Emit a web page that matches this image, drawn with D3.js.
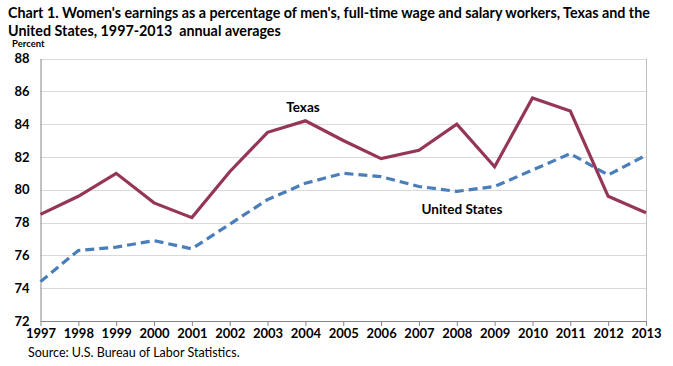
<!DOCTYPE html>
<html>
<head>
<meta charset="utf-8">
<script src="https://cdn.jsdelivr.net/npm/d3@7"></script>
<style>
  body { margin: 0; background: #fff; }
  svg text { font-family: Lato, "Open Sans", sans-serif; }
</style>
</head>
<body>
<div id="chart"></div>
<script>
// data
const years = [1997, 1998, 1999, 2000, 2001, 2002, 2003, 2004, 2005, 2006, 2007, 2008, 2009, 2010, 2011, 2012, 2013];
const texas = [78.5, 79.6, 81.0, 79.2, 78.3, 81.1, 83.5, 84.2, 83.0, 81.9, 82.4, 84.0, 81.4, 85.6, 84.8, 79.6, 78.6];
const unitedStates = [74.4, 76.3, 76.5, 76.9, 76.4, 77.9, 79.4, 80.4, 81.0, 80.8, 80.2, 79.9, 80.2, 81.2, 82.2, 80.9, 82.1];
const yTicks = [72, 74, 76, 78, 80, 82, 84, 86, 88];

const width = 673;
const height = 366;
const margin = { top: 58.5, right: 27, bottom: 45, left: 40.5 };

const svg = d3.select('#chart')
  .append('svg')
  .attr('width', width)
  .attr('height', height);

// title
const title = svg.append('text')
  .attr('x', 8)
  .attr('y', 18)
  .style('font-size', '14.3px')
  .style('font-weight', 'bold')
  .style('white-space', 'pre')
  .attr('fill', '#000');
title.append('tspan').attr('x', 8).attr('y', 18)
  .text("Chart 1. Women's earnings as a percentage of men's, full-time wage and salary workers, Texas and the");
title.append('tspan').attr('x', 8).attr('y', 36)
  .text('United States, 1997-2013  annual averages');

svg.append('text')
  .attr('x', 12)
  .attr('y', 47)
  .style('font-size', '9.5px')
  .style('font-weight', 'bold')
  .text('Percent');

const x = d3.scaleLinear()
  .domain([1997, 2013])
  .range([margin.left, width - margin.right]);

const y = d3.scaleLinear()
  .domain([72, 88])
  .range([height - margin.bottom, margin.top]);

// gridlines
svg.append('g')
  .selectAll('line')
  .data(yTicks.slice(1))
  .enter()
  .append('line')
  .attr('x1', margin.left)
  .attr('x2', width - margin.right)
  .attr('y1', (d) => Math.round(y(d)) + 0.5)
  .attr('y2', (d) => Math.round(y(d)) + 0.5)
  .attr('stroke', '#d9d9d9')
  .attr('stroke-width', 1);

// right border of plot
svg.append('line')
  .attr('x1', width - margin.right + 0.5)
  .attr('x2', width - margin.right + 0.5)
  .attr('y1', margin.top)
  .attr('y2', height - margin.bottom)
  .attr('stroke', '#bfbfbf');

// y axis
const yAxis = svg.append('g')
  .attr('transform', `translate(${margin.left},0)`)
  .call(d3.axisLeft(y).tickValues(yTicks).tickSize(0).tickPadding(11).tickFormat(d3.format('d')));
yAxis.select('.domain').attr('stroke', '#868686');
yAxis.selectAll('text')
  .style('font-size', '13px')
  .style('font-weight', 'bold')
  .attr('fill', '#000');

// x axis
const xAxis = svg.append('g')
  .attr('transform', `translate(0,${height - margin.bottom})`)
  .call(d3.axisBottom(x).tickValues(years).tickSize(5).tickSizeOuter(0).tickPadding(3).tickFormat(d3.format('d')));
xAxis.select('.domain').attr('stroke', '#868686');
xAxis.selectAll('.tick line').attr('stroke', '#868686');
xAxis.selectAll('text')
  .style('font-size', '13px')
  .style('font-weight', 'bold')
  .attr('fill', '#000');

// lines
const line = d3.line()
  .x((d, i) => x(years[i]))
  .y((d) => y(d));

svg.append('path')
  .datum(unitedStates)
  .attr('fill', 'none')
  .attr('stroke', '#4a7ebb')
  .attr('stroke-width', 3.2)
  .attr('stroke-dasharray', '9,5')
  .attr('d', line);

svg.append('path')
  .datum(texas)
  .attr('fill', 'none')
  .attr('stroke', '#953558')
  .attr('stroke-width', 3.2)
  .attr('stroke-linejoin', 'miter')
  .attr('d', line);

// series labels
svg.append('text')
  .attr('x', 303)
  .attr('y', 112)
  .attr('text-anchor', 'middle')
  .style('font-size', '13.5px')
  .style('font-weight', 'bold')
  .text('Texas');

svg.append('text')
  .attr('x', 462)
  .attr('y', 214)
  .attr('text-anchor', 'middle')
  .style('font-size', '13.5px')
  .style('font-weight', 'bold')
  .text('United States');

// source
svg.append('text')
  .attr('x', 28)
  .attr('y', 357)
  .style('font-size', '12.5px')
  .text('Source: U.S. Bureau of Labor Statistics.');
</script>
</body>
</html>
